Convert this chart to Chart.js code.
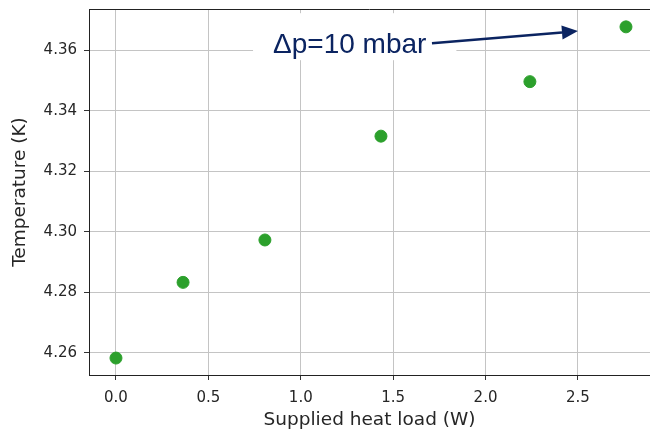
<!DOCTYPE html>
<html>
<head>
<meta charset="utf-8">
<script src="https://cdn.jsdelivr.net/npm/chart.js@4/dist/chart.umd.min.js"></script>
<style>
  html, body { margin: 0; padding: 0; background: #fff; overflow: hidden; }
  #wrap { width: 650px; height: 432px; }
</style>
</head>
<body>
<div id="wrap"><canvas id="heatChart"></canvas></div>
<script>
// Supplied heat load (W) vs temperature (K)
const heatLoad = [0.0, 0.363, 0.806, 1.434, 2.240, 2.760];
const temperature = [4.2583, 4.2833, 4.2973, 4.3316, 4.3496, 4.3677];

const xTitle = 'Supplied heat load (W)';
const yTitle = 'Temperature (K)';
const noteText = 'Δp=10 mbar';
// note position and arrow ends, in data units
const noteAt = [0.85, 4.359];
const arrowFrom = [1.71, 4.3623];
const arrowTo = [2.5, 4.3663];

// draw top frame line + the Δp note with its arrow
const notePlugin = {
  id: 'note',
  afterDatasetsDraw(chart) {
    const ctx = chart.ctx, xs = chart.scales.x, ys = chart.scales.y, area = chart.chartArea;
    ctx.save();
    ctx.strokeStyle = '#222';
    ctx.lineWidth = 1;
    ctx.beginPath();
    ctx.moveTo(area.left, Math.round(area.top) + 0.5);
    ctx.lineTo(area.right, Math.round(area.top) + 0.5);
    ctx.stroke();

    ctx.font = '28px "Liberation Sans", Arial, sans-serif';
    const tx = xs.getPixelForValue(noteAt[0]);
    const ty = ys.getPixelForValue(noteAt[1]);
    const w = ctx.measureText(noteText).width;
    ctx.fillStyle = '#fff';
    ctx.fillRect(tx - 20, ty - 40, w + 50, 47);
    ctx.fillStyle = '#0b2461';
    ctx.textBaseline = 'alphabetic';
    ctx.fillText(noteText, tx, ty);

    const x0 = xs.getPixelForValue(arrowFrom[0]), y0 = ys.getPixelForValue(arrowFrom[1]);
    const x1 = xs.getPixelForValue(arrowTo[0]), y1 = ys.getPixelForValue(arrowTo[1]);
    const ang = Math.atan2(y1 - y0, x1 - x0);
    const headLen = 16, headW = 7;
    const bx = x1 - headLen * Math.cos(ang), by = y1 - headLen * Math.sin(ang);
    ctx.strokeStyle = '#0b2461';
    ctx.lineWidth = 2.5;
    ctx.beginPath();
    ctx.moveTo(x0, y0);
    ctx.lineTo(bx, by);
    ctx.stroke();
    ctx.beginPath();
    ctx.moveTo(x1, y1);
    ctx.lineTo(bx + headW * Math.sin(ang), by - headW * Math.cos(ang));
    ctx.lineTo(bx - headW * Math.sin(ang), by + headW * Math.cos(ang));
    ctx.closePath();
    ctx.fillStyle = '#0b2461';
    ctx.fill();
    ctx.restore();
  }
};

// fixed axis boxes, no extra label padding
function fixBox(size) {
  return s => {
    if (s.isHorizontal()) s.height = size; else s.width = size;
    s.paddingTop = 0; s.paddingBottom = 0; s.paddingLeft = 0; s.paddingRight = 0;
  };
}

const ctx = document.getElementById('heatChart').getContext('2d');
new Chart(ctx, {
  type: 'scatter',
  data: {
    datasets: [{
      data: heatLoad.map((x, i) => ({ x: x, y: temperature[i] })),
      backgroundColor: '#2ca02c',
      borderColor: '#2ca02c',
      pointRadius: 6,
      pointHoverRadius: 6
    }]
  },
  options: {
    responsive: true,
    maintainAspectRatio: false,
    animation: false,
    layout: { autoPadding: false, padding: { top: 9, right: 0, left: 0, bottom: 0 } },
    plugins: { legend: { display: false }, tooltip: { enabled: false } },
    scales: {
      x: {
        type: 'linear',
        min: -0.146,
        max: 2.89,
        afterFit: fixBox(57),
        grid: { color: '#c4c4c4', lineWidth: 1, tickLength: 5, tickColor: '#333' },
        border: { display: true, color: '#222', width: 1 },
        ticks: {
          stepSize: 0.5,
          includeBounds: false,
          padding: 9,
          color: '#262626',
          font: { family: 'DejaVu Sans', size: 15 },
          callback: v => v.toFixed(1)
        },
        title: {
          display: true,
          text: xTitle,
          color: '#262626',
          font: { family: 'DejaVu Sans', size: 18.5 },
          padding: { top: 0, bottom: 1 }
        }
      },
      y: {
        type: 'linear',
        min: 4.2527,
        max: 4.3736,
        afterFit: fixBox(89),
        grid: { color: '#c4c4c4', lineWidth: 1, tickLength: 5, tickColor: '#333' },
        border: { display: true, color: '#222', width: 1 },
        ticks: {
          stepSize: 0.02,
          includeBounds: false,
          padding: 7,
          color: '#262626',
          font: { family: 'DejaVu Sans', size: 15 },
          callback: v => v.toFixed(2)
        },
        title: {
          display: true,
          text: yTitle,
          color: '#262626',
          font: { family: 'DejaVu Sans', size: 18.5 },
          padding: { top: 9, bottom: 0 }
        }
      }
    }
  },
  plugins: [notePlugin]
});
</script>
</body>
</html>
